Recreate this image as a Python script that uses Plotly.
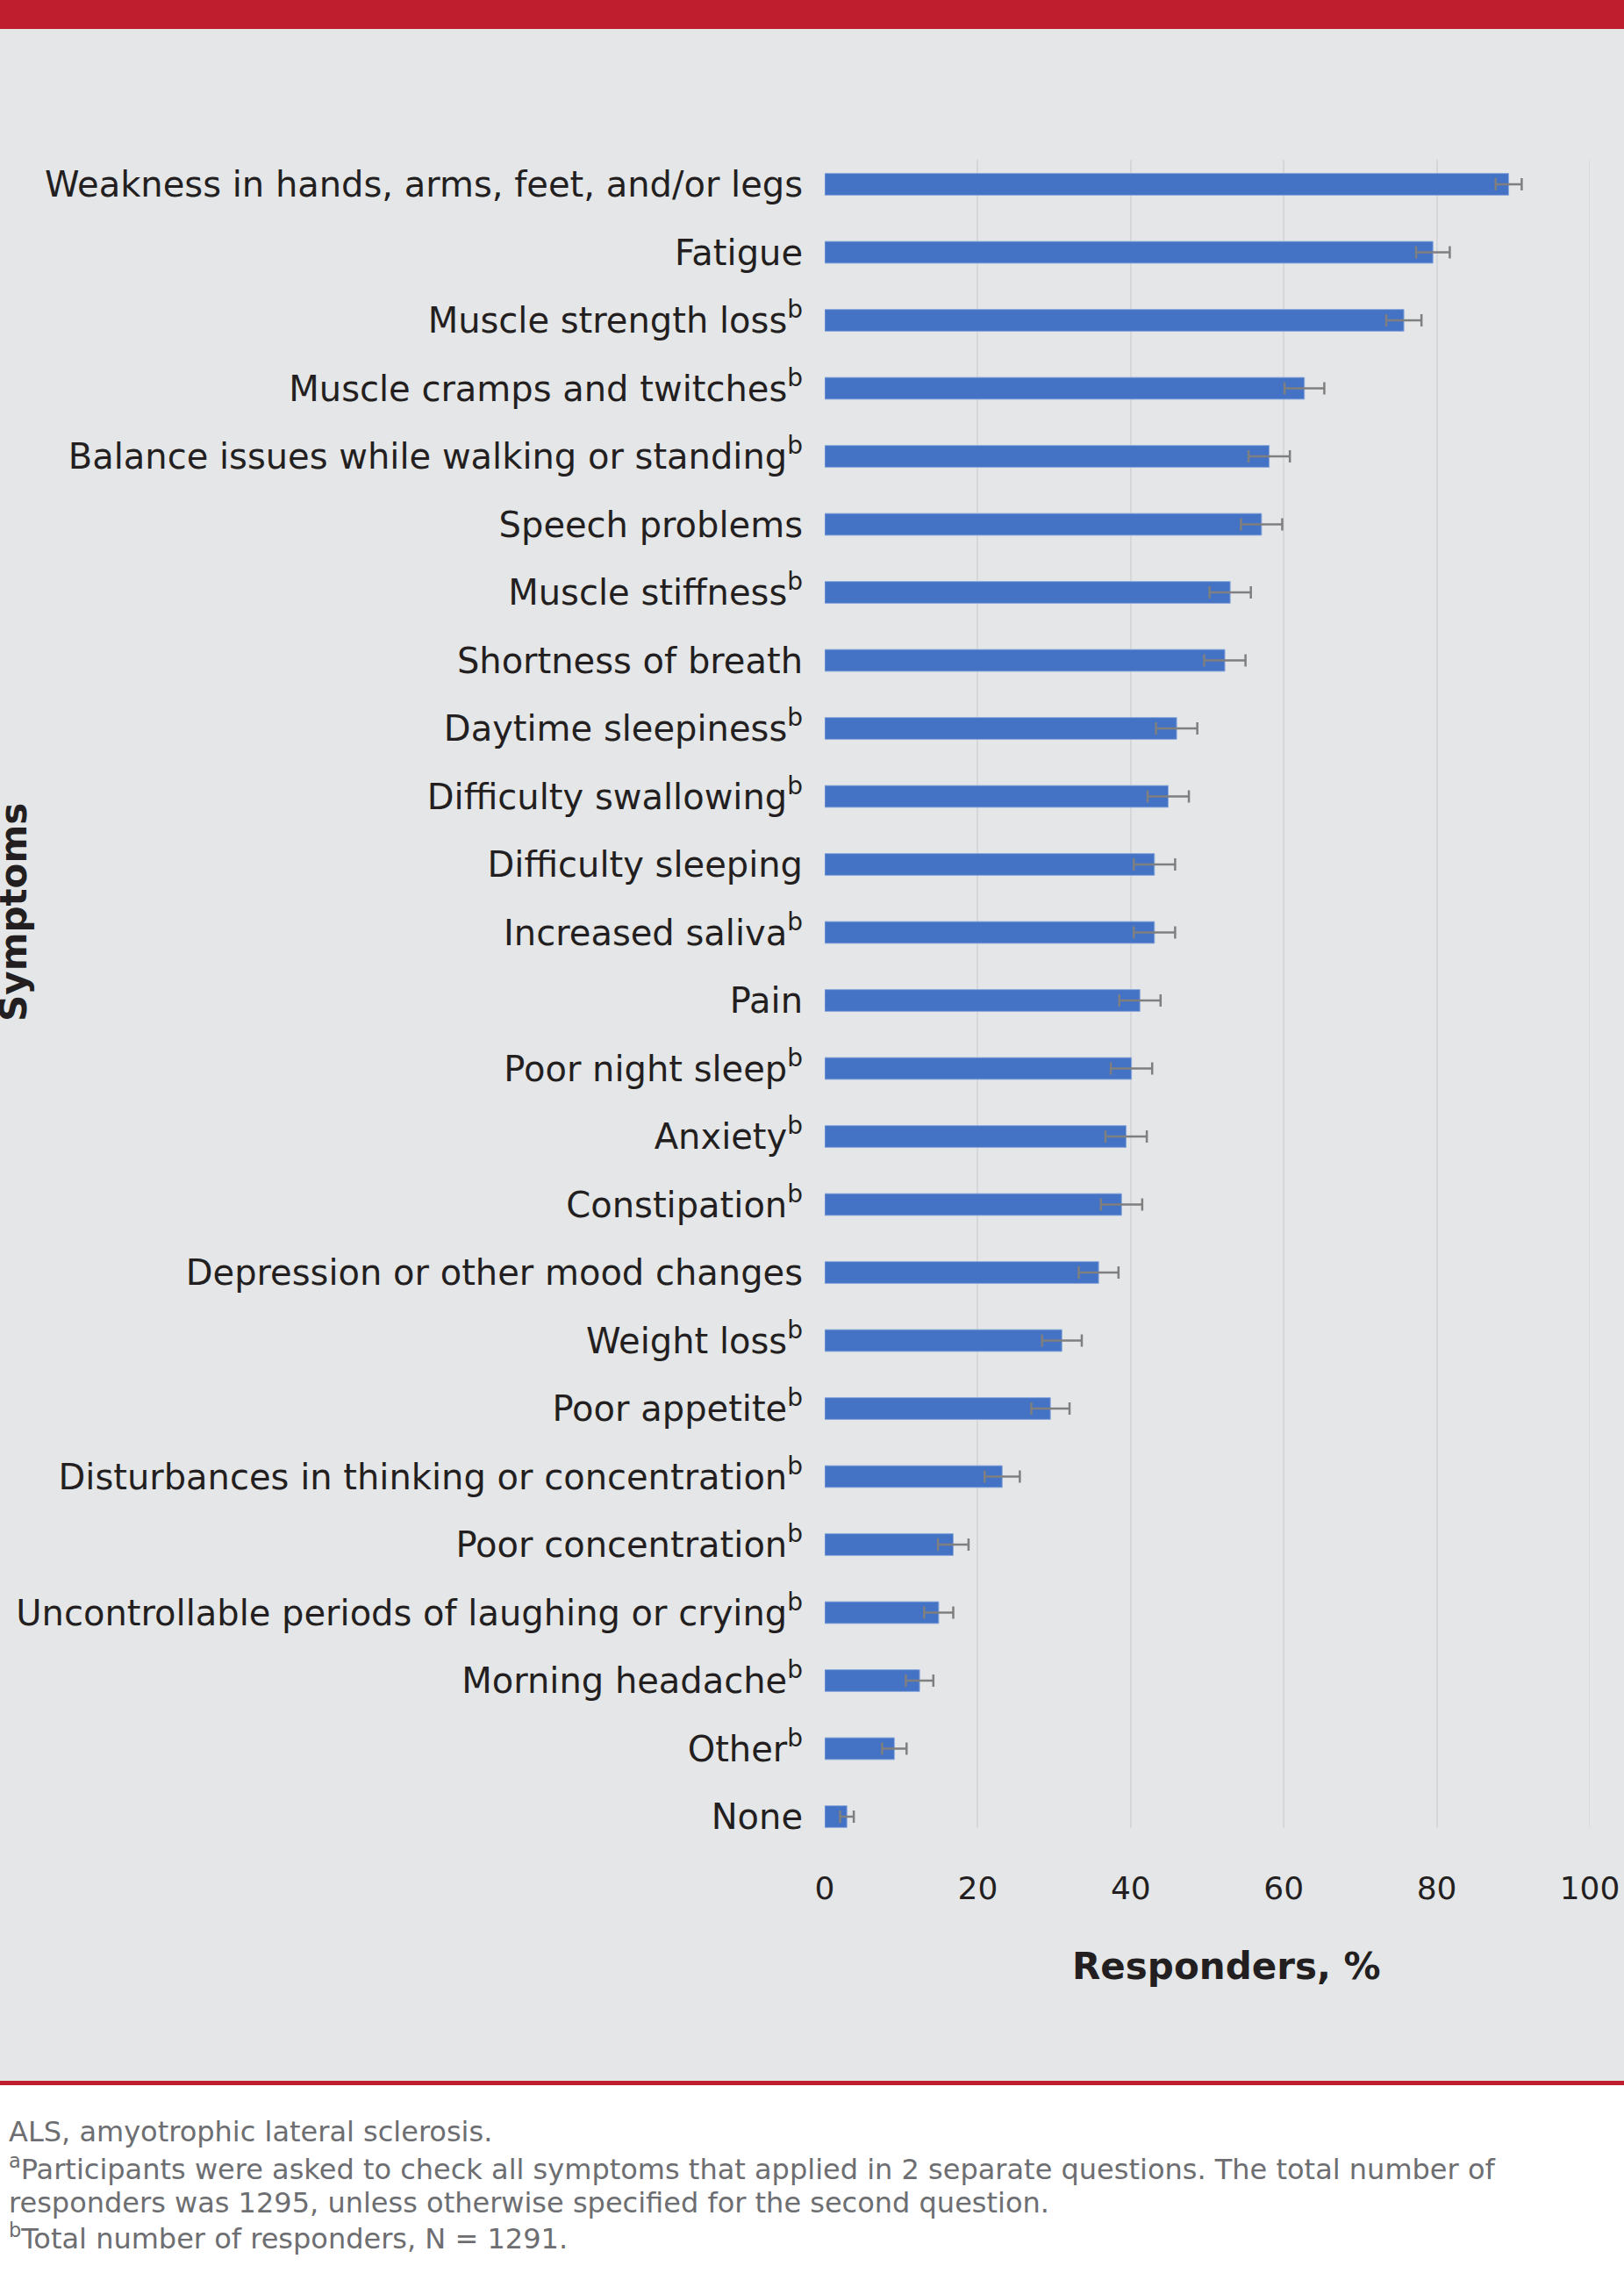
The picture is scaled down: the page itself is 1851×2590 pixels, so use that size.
import plotly.graph_objects as go

# ---------------- data ----------------
categories = [
    "Weakness in hands, arms, feet, and/or legs",
    "Fatigue",
    "Muscle strength loss<sup>b</sup>",
    "Muscle cramps and twitches<sup>b</sup>",
    "Balance issues while walking or standing<sup>b</sup>",
    "Speech problems",
    "Muscle stiffness<sup>b</sup>",
    "Shortness of breath",
    "Daytime sleepiness<sup>b</sup>",
    "Difficulty swallowing<sup>b</sup>",
    "Difficulty sleeping",
    "Increased saliva<sup>b</sup>",
    "Pain",
    "Poor night sleep<sup>b</sup>",
    "Anxiety<sup>b</sup>",
    "Constipation<sup>b</sup>",
    "Depression or other mood changes",
    "Weight loss<sup>b</sup>",
    "Poor appetite<sup>b</sup>",
    "Disturbances in thinking or concentration<sup>b</sup>",
    "Poor concentration<sup>b</sup>",
    "Uncontrollable periods of laughing or crying<sup>b</sup>",
    "Morning headache<sup>b</sup>",
    "Other<sup>b</sup>",
    "None",
]
responders_pct = [89.4, 79.5, 75.7, 62.7, 58.1, 57.1, 53.0, 52.3, 46.0, 44.9,
                  43.1, 43.1, 41.2, 40.1, 39.4, 38.8, 35.8, 31.0, 29.5, 23.2,
                  16.8, 14.9, 12.4, 9.1, 2.9]
error_pct = [1.7, 2.2, 2.3, 2.6, 2.7, 2.7, 2.7, 2.7, 2.7, 2.7,
             2.7, 2.7, 2.7, 2.7, 2.7, 2.7, 2.6, 2.6, 2.5, 2.3,
             2.0, 1.9, 1.8, 1.6, 0.9]
x_ticks = [0, 20, 40, 60, 80, 100]

footnotes = [
    "ALS, amyotrophic lateral sclerosis.",
    "<sup>a</sup>Participants were asked to check all symptoms that applied in 2 separate questions. The total number of",
    "responders was 1295, unless otherwise specified for the second question.",
    "<sup>b</sup>Total number of responders, N = 1291.",
]

# ---------------- layout constants (pixels) ----------------
FIG_W, FIG_H = 1851, 2590
L, R, T, B = 940, 39, 182, 507
PW = FIG_W - L - R
PH = FIG_H - T - B

def px(x):
    return (x - L) / PW

def py(y):
    return (FIG_H - B - y) / PH

FONT = "DejaVu Sans"
TXT = "#231f20"
BG = "#e5e6e8"
RED = "#be1e2d"
GRID = "#d6d7da"

fig = go.Figure()
fig.add_trace(go.Bar(
    x=responders_pct,
    y=categories,
    orientation="h",
    width=0.32,
    marker=dict(color="#4472c4", line=dict(color="#8eaadb", width=1)),
    error_x=dict(type="data", array=error_pct, color="#7f7f7f",
                 thickness=2.5, width=7),
    hoverinfo="x+y",
))

shapes = [
    # gray panel
    dict(type="rect", xref="paper", yref="paper", x0=px(0), x1=px(FIG_W),
         y0=py(2371), y1=py(33), fillcolor=BG, line_width=0, layer="below"),
    # red header band
    dict(type="rect", xref="paper", yref="paper", x0=px(0), x1=px(FIG_W),
         y0=py(33), y1=py(0), fillcolor=RED, line_width=0, layer="below"),
    # red separator line
    dict(type="rect", xref="paper", yref="paper", x0=px(0), x1=px(FIG_W),
         y0=py(2376), y1=py(2371), fillcolor=RED, line_width=0, layer="below"),
    # gridline at the right edge of the axis (plotly skips the edge one)
    dict(type="line", xref="x", yref="paper", x0=x_ticks[-1], x1=x_ticks[-1],
         y0=0, y1=1, line=dict(color=GRID, width=1.5), layer="below"),
]

annotations = [
    dict(text="<b>Responders, %</b>", xref="paper", yref="paper",
         x=px(1398), y=py(2240), xanchor="center", yanchor="middle",
         showarrow=False, font=dict(family=FONT, size=42, color=TXT)),
    dict(text="<b>Symptoms</b>", xref="paper", yref="paper",
         x=px(15), y=py(1040), xanchor="center", yanchor="middle",
         textangle=-90, showarrow=False,
         font=dict(family=FONT, size=42, color=TXT)),
]
foot_y = [2429, 2470, 2510, 2549]
for txt, yy in zip(footnotes, foot_y):
    annotations.append(dict(text=txt, xref="paper", yref="paper",
                            x=px(8), y=py(yy), xanchor="left", yanchor="middle",
                            showarrow=False,
                            font=dict(family=FONT, size=32, color="#6d6e71")))

fig.update_layout(
    width=FIG_W, height=FIG_H,
    margin=dict(l=L, r=R, t=T, b=B, pad=0, autoexpand=False),
    paper_bgcolor="white",
    plot_bgcolor=BG,
    showlegend=False,
    shapes=shapes,
    annotations=annotations,
    xaxis=dict(
        range=[0, 100], tickvals=x_ticks, ticktext=[str(v) for v in x_ticks],
        showgrid=True, gridcolor=GRID, gridwidth=1.5,
        zeroline=False, showline=False, ticks="",
        ticklabelstandoff=44,
        tickfont=dict(family=FONT, size=36, color=TXT),
        fixedrange=True,
    ),
    yaxis=dict(
        type="category", categoryorder="array", categoryarray=categories,
        range=[24 + 13 / 77.5, -28 / 77.5],
        showgrid=False, zeroline=False, showline=False, ticks="",
        ticklabelstandoff=24,
        tickfont=dict(family=FONT, size=40, color=TXT),
        fixedrange=True,
    ),
)

fig.write_html("out.html", config={"displayModeBar": False},
               post_script="document.body.style.margin='0';")
